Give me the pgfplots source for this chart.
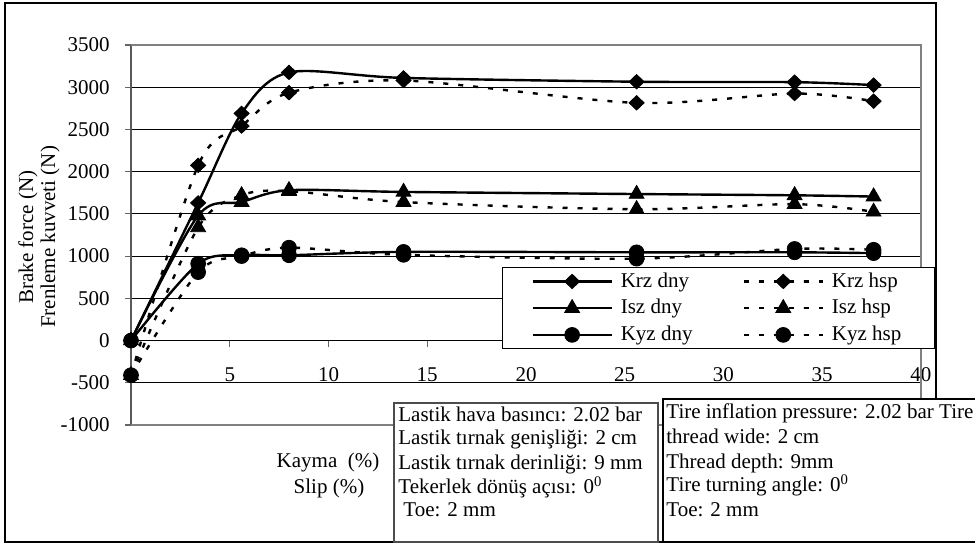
\documentclass[border=0pt]{standalone}
\usepackage{pgfplots}
\pgfplotsset{compat=1.18}
\usepackage{fontspec}
\setmainfont{Liberation Serif}

\pgfplotstableread{
x     krzd  krzh  iszd  iszh  kyzd  kyzh
0     0     -410  0     -410  0     -410
3.4   1630  2075  1480  1340  910   810
5.6   2690  2540  1640  1720  1010  1000
8.0   3175  2935  1780  1770  1010  1100
13.8  3110  3080  1760  1640  1050  1015
25.6  3065  2815  1735  1555  1045  970
33.6  3060  2925  1720  1615  1045  1085
37.6  3025  2835  1705  1525  1035  1075
}\datatable

\pgfplotsset{
  dny/.style={black, line width=1.2pt, smooth},
  hsp/.style={black, line width=1.2pt, smooth, dash pattern=on 2.5pt off 5pt},
  mkrz/.style={mark=diamond*, mark size=3.6pt, mark options={solid, fill=black, line width=0.4pt, xscale=1.4}},
  misz/.style={mark=triangle*, mark size=4.3pt, mark options={solid, fill=black, line width=0.4pt}},
  mkyz/.style={mark=*, mark size=3.7pt, mark options={solid, fill=black, line width=0.4pt}},
}

\begin{document}
\fontsize{10.5}{12}\selectfont
\begin{tikzpicture}
\useasboundingbox (0,0) rectangle (487.5pt,272.5pt);
\begin{axis}[
  at={(65.5pt,60pt)}, anchor=south west,
  scale only axis, width=395pt, height=190pt,
  xmin=0, xmax=40, ymin=-1000, ymax=3500,
  axis x line=middle, axis y line=left,
  axis line style={-},
  x axis line style={black, line width=0.5pt},
  y axis line style={draw=black!65, line width=1.4pt},
  xtick={0,5,...,40}, ytick={-1000,-500,...,3500},
  ymajorgrids, grid style={black, line width=0.5pt},
  tick style={black!60, line width=0.6pt},
  major tick length=3pt,
  xtick align=outside, ytick align=outside,
  tick label style={font=\fontsize{10.5}{12}\selectfont},
  /pgf/number format/assume math mode=true,
  /pgf/number format/1000 sep={},
  xticklabel style={yshift=-7pt},
  yticklabel style={xshift=-4pt},
  clip=false,
  legend columns=2,
  legend cell align=left,
  legend image code/.code={\draw[mark repeat=2,mark phase=2,#1] plot coordinates {(0pt,0pt) (19.75pt,0pt) (39.5pt,0pt)};},
  legend style={at={(1.0177,0.4158)}, anchor=north east, draw=black, line width=0.6pt, fill=white,
    inner xsep=14.5pt, inner ysep=0.5pt, font=\fontsize{10.5}{12}\selectfont,
    row sep=0.5pt, column sep=2pt,
    /tikz/every even column/.append style={column sep=23pt}},
]
\draw[black!50, line width=1pt] (rel axis cs:0,1) -- (rel axis cs:1,1) -- (rel axis cs:1,0) -- (rel axis cs:0,0);
\addplot[dny, mkrz] table[x=x, y=krzd] {\datatable};
\addlegendentry{Krz dny}
\addplot[hsp, mkrz] table[x=x, y=krzh] {\datatable};
\addlegendentry{Krz hsp}
\addplot[dny, misz] table[x=x, y=iszd] {\datatable};
\addlegendentry{Isz dny}
\addplot[hsp, misz] table[x=x, y=iszh] {\datatable};
\addlegendentry{Isz hsp}
\addplot[dny, mkyz] table[x=x, y=kyzd] {\datatable};
\addlegendentry{Kyz dny}
\addplot[hsp, mkyz] table[x=x, y=kyzh] {\datatable};
\addlegendentry{Kyz hsp}
\end{axis}
\begin{scope}[x=0.5pt, y=-0.5pt, shift={(0,-545)}]
  % outer border
  \draw[black, line width=0.6pt] (5,3) rectangle (936,542);
  % y label
  \node[rotate=90, anchor=center, inner sep=0pt] at (28,237) {Brake force (N)};
  \node[rotate=90, anchor=center, inner sep=0pt] at (50,237) {Frenleme kuvveti (N)};
  % x label
  \node[anchor=center, inner sep=0pt] at (328,462) {Kayma\ \ (\%)};
  \node[anchor=center, inner sep=0pt] at (329,488) {Slip (\%)};
  % left info box
  \draw[black!70, line width=0.6pt, fill=white] (394,403) rectangle (658,542);
  \node[anchor=base west, inner sep=0pt] at (398,422) {Lastik hava basıncı: 2.02 bar};
  \node[anchor=base west, inner sep=0pt] at (398,445) {Lastik tırnak genişliği: 2 cm};
  \node[anchor=base west, inner sep=0pt] at (398,470) {Lastik tırnak derinliği: 9 mm};
  \node[anchor=base west, inner sep=0pt] at (398,494) {Tekerlek dönüş açısı: 0\textsuperscript{0}};
  \node[anchor=base west, inner sep=0pt] at (403,517) {Toe: 2 mm};
  % right info box
  \draw[black, line width=0.6pt, fill=white] (663,399) rectangle (985,542);
  \node[anchor=base west, inner sep=0pt] at (666,419) {Tire inflation pressure: 2.02 bar Tire};
  \node[anchor=base west, inner sep=0pt] at (666,444) {thread wide: 2 cm};
  \node[anchor=base west, inner sep=0pt] at (666,469) {Thread depth: 9mm};
  \node[anchor=base west, inner sep=0pt] at (666,492) {Tire turning angle: 0\textsuperscript{0}};
  \node[anchor=base west, inner sep=0pt] at (666,517) {Toe: 2 mm};
\end{scope}
\end{tikzpicture}
\end{document}
